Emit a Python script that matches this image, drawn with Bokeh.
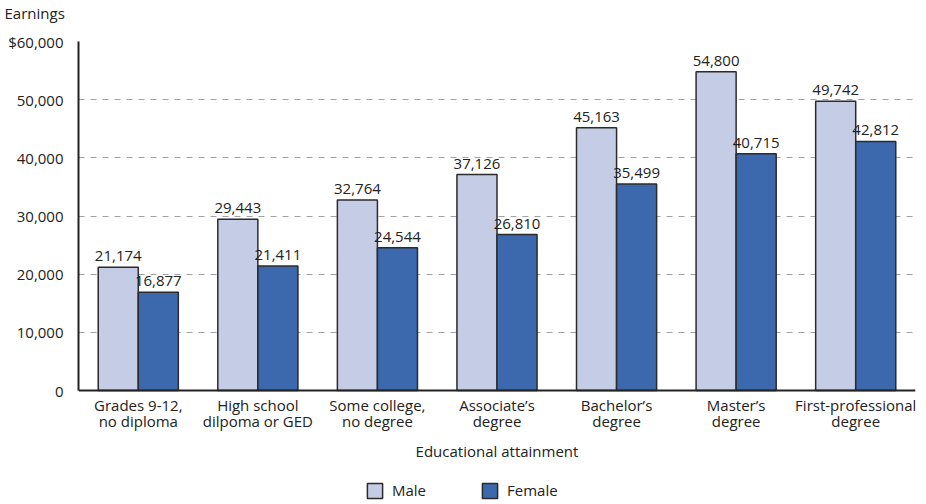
from bokeh.plotting import figure
from bokeh.models import ColumnDataSource, FixedTicker, Legend, LegendItem, Span
from bokeh.transform import dodge
from bokeh.embed import file_html
from bokeh.resources import INLINE

categories = ["Grades 9-12,\nno diploma", "High school\ndilpoma or GED", "Some college,\nno degree",
              "Associate\u2019s\ndegree", "Bachelor\u2019s\ndegree", "Master\u2019s\ndegree",
              "First-professional\ndegree"]
male = [21174, 29443, 32764, 37126, 45163, 54800, 49742]
female = [16877, 21411, 24544, 26810, 35499, 40715, 42812]
y_ticks = [0, 10000, 20000, 30000, 40000, 50000, 60000]
y_tick_labels = ["0", "10,000", "20,000", "30,000", "40,000", "50,000", "$60,000"]
x_title = "Educational attainment"

FONT = "Open Sans"
TXT = "#222222"

# layout: 349 px of frame for 0..60000, 112 px of frame below zero for labels and legend
PX_DATA, PX_BELOW, PX_XTITLE = 349, 112, 60
Y_MAX = 60000
Y_MIN = -Y_MAX * PX_BELOW / PX_DATA
Y_XTITLE = -Y_MAX * PX_XTITLE / PX_DATA

src = ColumnDataSource(dict(
    cat=categories, male=male, female=female,
    male_lbl=[f"{v:,}" for v in male], female_lbl=[f"{v:,}" for v in female],
))

p = figure(x_range=categories, y_range=(Y_MIN, Y_MAX), width=917, height=502,
           min_border_left=78, min_border_top=41, min_border_right=2, min_border_bottom=0,
           output_backend="svg", toolbar_location=None)
p.x_range.range_padding = 0
p.outline_line_color = None

p.title.text = "Earnings\n"
p.title.text_font = FONT
p.title.text_font_size = "15px"
p.title.text_font_style = "normal"
p.title.text_color = TXT
p.title.text_line_height = 0.9
p.title.align = "left"
p.title.offset = -74
p.title.standoff = 1

m = p.vbar(x=dodge("cat", -0.1675, range=p.x_range), top="male", bottom=0, width=0.335, source=src,
           fill_color="#c5cce6", line_color="#2b2b2b", line_width=1.5)
f = p.vbar(x=dodge("cat", 0.1675, range=p.x_range), top="female", bottom=0, width=0.335, source=src,
           fill_color="#3c68ae", line_color="#2b2b2b", line_width=1.5)

for off, col in ((-0.1675, "male"), (0.1675, "female")):
    p.text(x=dodge("cat", off, range=p.x_range), y=col, text=col + "_lbl", source=src,
           text_align="center", text_baseline="bottom", y_offset=-6,
           text_font={"value": FONT}, text_font_size="15px", text_color=TXT)

# category labels below the zero line
p.text(x="cat", y=0, text="cat", source=src, text_align="center", text_baseline="top",
       y_offset=4, text_line_height=0.8,
       text_font={"value": FONT}, text_font_size="15px", text_color=TXT)

# x axis title
p.text(x=[categories[3]], y=[Y_XTITLE], text=[x_title], text_align="center",
       text_baseline="middle", text_font={"value": FONT}, text_font_size="15px",
       text_color=TXT)

# x axis line at zero
p.add_layout(Span(location=0, dimension="width", line_color=TXT, line_width=2))
p.xaxis.visible = False

ticker = FixedTicker(ticks=y_ticks)
p.yaxis.ticker = ticker
p.yaxis.bounds = (0, Y_MAX)
p.yaxis.major_label_overrides = {t: l for t, l in zip(y_ticks, y_tick_labels)}
p.yaxis.axis_line_color = TXT
p.yaxis.axis_line_width = 2
p.yaxis.major_tick_line_color = None
p.yaxis.minor_tick_line_color = None
p.yaxis.major_label_standoff = 9
p.yaxis.major_label_text_font = FONT
p.yaxis.major_label_text_font_size = "15px"
p.yaxis.major_label_text_color = TXT

p.xgrid.grid_line_color = None
p.ygrid.ticker = ticker
p.ygrid.grid_line_color = "#a0a0a0"
p.ygrid.grid_line_dash = "6 6"
p.ygrid.grid_line_width = 1

legend = Legend(items=[LegendItem(label="Male", renderers=[m]),
                       LegendItem(label="Female", renderers=[f])],
                orientation="horizontal", location=(287, 2), border_line_color=None,
                background_fill_alpha=0, padding=0, margin=0, spacing=54,
                glyph_width=19, glyph_height=19, label_standoff=8,
                label_text_font=FONT, label_text_font_size="15px", label_text_color=TXT)
p.add_layout(legend)

open("out.html", "w").write(file_html(p, INLINE))
